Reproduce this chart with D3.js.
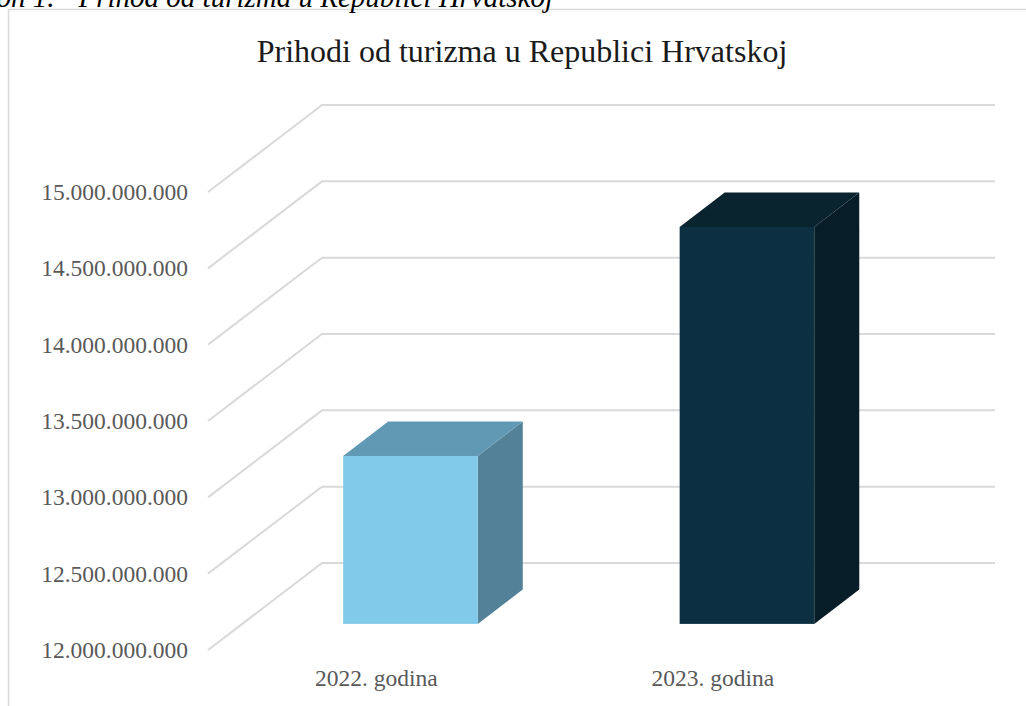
<!DOCTYPE html>
<html>
<head>
<meta charset="utf-8">
<script src="https://cdn.jsdelivr.net/npm/d3@7"></script>
<style>
  html, body { margin: 0; padding: 0; background: #fff; }
  svg { display: block; }
</style>
</head>
<body>
<svg id="chart" width="1026" height="706"></svg>
<script>
// ---- Data ----
const categories = ["2022. godina", "2023. godina"];
const revenue = [13100000000, 14600000000];
const tickValues = [12000000000, 12500000000, 13000000000, 13500000000, 14000000000, 14500000000, 15000000000];
const frontColors = ["#82caea", "#0c3041"];
const topColors = ["#6199b5", "#09232f"];
const sideColors = ["#538197", "#071d27"];
const chartTitle = "Prihodi od turizma u Republici Hrvatskoj";
const captionLead = "Grafikon 1.";
const captionText = "Prihod od turizma u Republici Hrvatskoj";

// ---- Layout ----
const svg = d3.select("#chart");
const W = 1026, H = 706;
const floorLeft = 208, floorRight = 881;   // front edge of floor
const depthDX = 114, depthDY = -87;        // full depth offset
const barFront = 0.3, barBack = 0.695;     // bar depth position as fraction

const x = d3.scaleBand().domain(categories).range([floorLeft, floorRight])
  .paddingInner(0.6).paddingOuter(0.3);
const y = d3.scaleLinear().domain([12000000000, 15000000000]).range([650, 192]);

const loc = d3.formatLocale({decimal: ",", thousands: ".", grouping: [3], currency: ["", ""]});
const fmt = loc.format(",.0f");

// Chart frame border
svg.append("path")
  .attr("d", `M8.5,${H} L8.5,9.5 L${W},9.5`)
  .attr("fill", "none").attr("stroke", "#d9d9d9").attr("stroke-width", 1.5);

// Caption (cut off at top, as in the source)
const cap = svg.append("text")
  .attr("x", 553).attr("y", 7)
  .attr("text-anchor", "end")
  .attr("font-family", "'Liberation Serif', 'Times New Roman', serif")
  .attr("font-style", "italic")
  .attr("font-size", 29)
  .attr("fill", "#000");
cap.append("tspan").text(captionLead);
cap.append("tspan").attr("dx", 24).text(captionText);

// Title
svg.append("text")
  .attr("x", 522).attr("y", 62)
  .attr("text-anchor", "middle")
  .attr("font-family", "'Liberation Serif', 'Times New Roman', serif")
  .attr("font-size", 32)
  .attr("fill", "#1a1a1a")
  .text(chartTitle);

// Gridlines: side wall diagonal + back wall horizontal
const grid = svg.append("g").attr("fill", "none").attr("stroke", "#d9d9d9").attr("stroke-width", 2);
grid.selectAll("path").data(tickValues).join("path")
  .attr("d", d => {
    const y0 = y(d);
    return `M${floorLeft},${y0} L${floorLeft + depthDX},${y0 + depthDY} L${floorRight + depthDX},${y0 + depthDY}`;
  });

// Y axis labels
const yAxis = d3.axisLeft(y).tickValues(tickValues).tickFormat(fmt).tickSize(0).tickPadding(0);
const gy = svg.append("g").attr("transform", "translate(188,0)").call(yAxis);
gy.select(".domain").remove();
gy.selectAll("text")
  .attr("font-family", "'Liberation Serif', 'Times New Roman', serif")
  .attr("font-size", 23.5)
  .attr("fill", "#595959");

// X axis labels
const xAxis = d3.axisBottom(x).tickSize(0).tickPadding(19);
const gx = svg.append("g").attr("transform", "translate(0,650)").call(xAxis);
gx.select(".domain").remove();
gx.selectAll("text")
  .attr("font-family", "'Liberation Serif', 'Times New Roman', serif")
  .attr("font-size", 23.5)
  .attr("fill", "#595959");

// 3D bars
const bars = svg.append("g");
const fdx = depthDX * barFront, fdy = depthDY * barFront;
const bdx = depthDX * (barBack - barFront), bdy = depthDY * (barBack - barFront);
categories.forEach((c, i) => {
  const x0 = x(c) + fdx, x1 = x0 + x.bandwidth();
  const yb = y(12000000000) + fdy, yt = y(revenue[i]) + fdy;
  const g = bars.append("g");
  g.append("path")
    .attr("d", `M${x1},${yt} L${x1 + bdx},${yt + bdy} L${x1 + bdx},${yb + bdy} L${x1},${yb} Z`)
    .attr("fill", sideColors[i]);
  g.append("path")
    .attr("d", `M${x0},${yt} L${x0 + bdx},${yt + bdy} L${x1 + bdx},${yt + bdy} L${x1},${yt} Z`)
    .attr("fill", topColors[i]);
  g.append("rect")
    .attr("x", x0).attr("y", yt)
    .attr("width", x.bandwidth()).attr("height", yb - yt)
    .attr("fill", frontColors[i]);
});
</script>
</body>
</html>
